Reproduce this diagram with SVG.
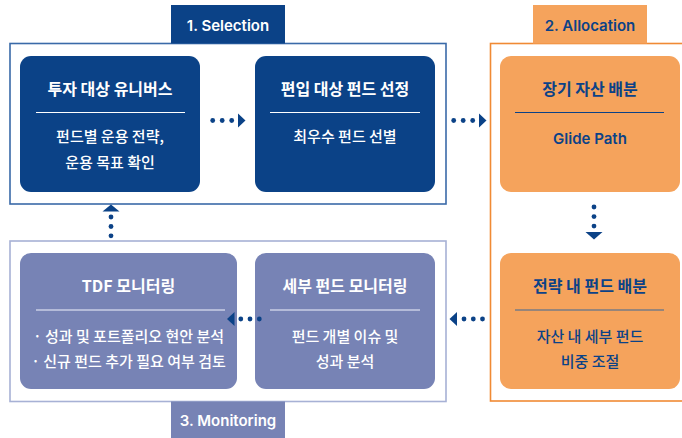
<svg xmlns="http://www.w3.org/2000/svg" width="682" height="438" viewBox="0 0 682 438">
<style>
text{font-family:"Noto Sans CJK KR","Noto Sans",sans-serif;text-anchor:middle;dominant-baseline:central}
.t{font-size:16px;font-weight:700}
.b{font-size:15px;font-weight:500}
.lbl{font-family:"Inter","Liberation Sans",sans-serif;font-size:15px;font-weight:600}
.w{fill:#ffffff}
.d{fill:#0b4287}
.dot{fill:#0b4287}
</style>
<rect width="682" height="438" fill="#ffffff"/>

<g id="selection-frame">
<rect x="10" y="43.5" width="436" height="160.5" fill="none" stroke="#3a6aa8" stroke-width="1.6"/>
<rect x="171" y="5" width="114" height="38.5" fill="#0b4287"/>
<text class="lbl w" x="228" y="25">1. Selection</text>
</g>

<g id="allocation-frame">
<rect x="490.5" y="43.5" width="200" height="357.5" fill="none" stroke="#f08a34" stroke-width="1.6"/>
<rect x="533" y="5" width="114" height="38.5" fill="#f5a35c"/>
<text class="lbl d" x="590" y="25">2. Allocation</text>
</g>

<g id="monitoring-frame">
<rect x="10" y="241" width="436" height="160.5" fill="none" stroke="#a7b1d5" stroke-width="1.6"/>
<rect x="171" y="401.5" width="114" height="37" fill="#7783b5"/>
<text class="lbl w" x="228" y="420">3. Monitoring</text>
</g>

<g id="n1">
<rect x="20" y="56" width="180" height="136" rx="11" fill="#0b4287"/>
<text class="t w" x="110" y="87.5">투자 대상 유니버스</text>
<line x1="36" y1="112.5" x2="185" y2="112.5" stroke="#ffffff" stroke-width="1.2"/>
<text class="b w" x="110" y="135.5">펀드별 운용 전략,</text>
<text class="b w" x="110" y="161">운용 목표 확인</text>
</g>

<g id="n2">
<rect x="255" y="56" width="180" height="136" rx="11" fill="#0b4287"/>
<text class="t w" x="345" y="87.5">편입 대상 펀드 선정</text>
<line x1="270" y1="112.5" x2="420" y2="112.5" stroke="#ffffff" stroke-width="1.2"/>
<text class="b w" x="345" y="135.5">최우수 펀드 선별</text>
</g>

<g id="n3">
<rect x="500" y="56" width="180" height="136" rx="11" fill="#f5a35c"/>
<text class="t d" x="590" y="87.5">장기 자산 배분</text>
<line x1="515" y1="112.5" x2="664" y2="112.5" stroke="#0b4287" stroke-width="1.2"/>
<text class="lbl d" x="590" y="138">Glide Path</text>
</g>

<g id="n4">
<rect x="500" y="253" width="180" height="136" rx="11" fill="#f5a35c"/>
<text class="t d" x="590" y="284.5">전략 내 펀드 배분</text>
<line x1="515" y1="310" x2="664" y2="310" stroke="#777b85" stroke-width="1.4"/>
<text class="b d" x="590" y="335.7">자산 내 세부 펀드</text>
<text class="b d" x="590" y="360.5">비중 조절</text>
</g>

<g id="n5">
<rect x="20" y="253" width="217" height="136" rx="11" fill="#7783b5"/>
<text class="t w" x="128.5" y="284.5">TDF 모니터링</text>
<line x1="36" y1="310" x2="225" y2="310" stroke="#c9cee6" stroke-width="1.4"/>
<text class="b w" x="128.5" y="335.7">· 성과 및 포트폴리오 현안 분석</text>
<text class="b w" x="128.5" y="360.7">· 신규 펀드 추가 필요 여부 검토</text>
</g>

<g id="n6">
<rect x="255" y="253" width="180" height="136" rx="11" fill="#7783b5"/>
<text class="t w" x="345" y="284.5">세부 펀드 모니터링</text>
<line x1="270" y1="310" x2="420" y2="310" stroke="#c9cee6" stroke-width="1.4"/>
<text class="b w" x="345" y="335.7">펀드 개별 이슈 및</text>
<text class="b w" x="345" y="360.7">성과 분석</text>
</g>

<g id="connectors">
<!-- n1 -> n2 -->
<circle class="dot" cx="212.7" cy="120.5" r="2.4"/>
<circle class="dot" cx="222.2" cy="120.5" r="2.4"/>
<circle class="dot" cx="231.7" cy="120.5" r="2.4"/>
<polygon class="dot" points="238,113.5 245.5,120.5 238,127.5"/>
<!-- n2 -> n3 -->
<circle class="dot" cx="453.7" cy="120.5" r="2.4"/>
<circle class="dot" cx="463.2" cy="120.5" r="2.4"/>
<circle class="dot" cx="472.7" cy="120.5" r="2.4"/>
<polygon class="dot" points="479,113.5 486.5,120.5 479,127.5"/>
<!-- n3 -> n4 -->
<circle class="dot" cx="594" cy="207" r="2.4"/>
<circle class="dot" cx="594" cy="216.6" r="2.4"/>
<circle class="dot" cx="594" cy="226.1" r="2.4"/>
<polygon class="dot" points="585.5,232 602.5,232 594,239.5"/>
<!-- n4 -> n6 -->
<circle class="dot" cx="464" cy="319" r="2.4"/>
<circle class="dot" cx="473.3" cy="319" r="2.4"/>
<circle class="dot" cx="482.5" cy="319" r="2.4"/>
<polygon class="dot" points="457,312 449.5,319 457,326"/>
<!-- n6 -> n5 -->
<circle class="dot" cx="240.8" cy="319" r="2.4"/>
<circle class="dot" cx="250" cy="319" r="2.4"/>
<circle class="dot" cx="259.3" cy="319" r="2.4"/>
<polygon class="dot" points="234.5,312 227,319 234.5,326"/>
<!-- n5 -> n1 -->
<circle class="dot" cx="111" cy="217" r="2.4"/>
<circle class="dot" cx="111" cy="226.5" r="2.4"/>
<circle class="dot" cx="111" cy="235.8" r="2.4"/>
<polygon class="dot" points="102.5,211.5 119.5,211.5 111,204.5"/>
</g>
</svg>
